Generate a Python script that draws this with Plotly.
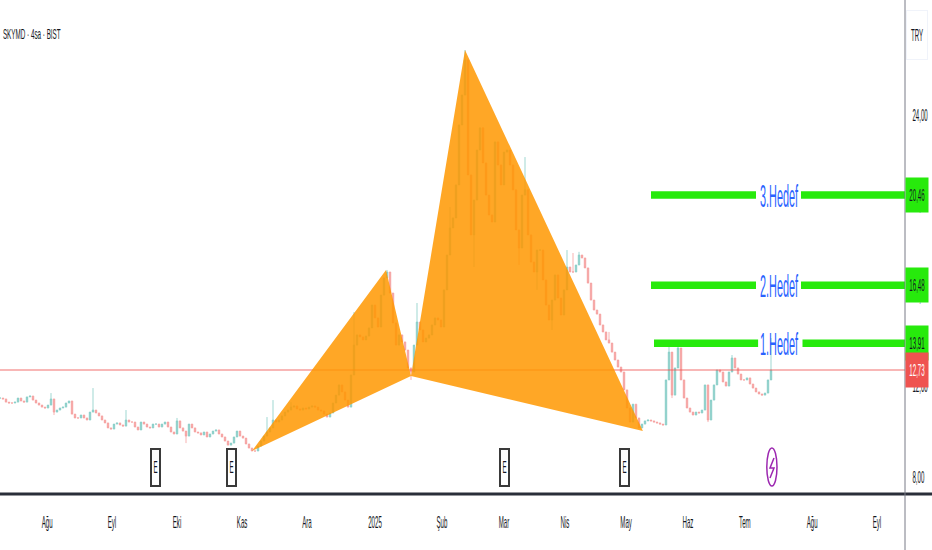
import plotly.graph_objects as go

closes = [11.49,11.45,11.31,11.27,11.27,11.31,11.49,11.36,11.31,11.54,11.58,11.40,11.27,11.18,11.09,11.05,11.18,11.45,10.87,10.96,11.05,11.09,11.27,11.36,10.78,10.61,10.61,10.74,10.61,10.52,10.87,10.96,10.83,10.70,10.52,10.39,10.17,10.12,10.34,10.39,10.30,10.25,10.52,10.43,10.43,10.21,10.08,10.43,10.34,10.21,
10.17,10.34,10.34,10.21,10.34,10.43,10.21,9.99,9.90,10.48,10.17,10.03,9.81,10.34,10.17,9.99,9.95,9.86,9.99,9.77,9.90,10.03,10.08,9.90,9.77,9.59,9.41,9.50,9.77,10.03,9.81,9.72,9.46,9.28,9.15,9.15,
9.37,9.59,9.81,9.99,10.17,10.52,10.43,10.52,10.70,10.87,10.96,11.09,11.14,11.01,10.96,11.05,11.01,11.09,11.14,11.09,10.96,10.92,10.78,10.65,10.83,11.27,11.62,12.07,11.76,11.40,11.09,
12.51,13.83,14.28,14.19,14.06,14.23,14.59,15.60,15.03,14.63,16.04,16.80,17.06,16.13,14.81,13.83,14.28,13.97,13.61,12.82,12.64,13.83,14.85,14.50,13.97,14.14,14.28,14.72,15.03,14.94,14.63,
16.27,17.81,19.01,19.45,20.91,23.56,24.88,26.43,21.35,18.70,20.24,22.45,23.43,21.88,20.46,19.58,19.27,22.81,21.79,20.91,22.36,22.45,21.79,20.69,18.92,18.12,20.46,20.69,18.70,17.50,17.06,18.03,18.03,16.71,15.60,14.94,15.82,16.93,15.91,15.16,16.27,17.28,17.06,17.06,17.37,17.81,17.68,17.24,16.57,15.82,15.38,15.20,14.72,14.41,14.06,13.92,13.52,13.17,12.86,12.64,11.85,11.05,10.43,11.22,10.61,10.17,
10.34,10.48,10.52,10.48,10.43,10.39,10.34,10.30,12.29,13.52,11.62,12.82,13.70,12.29,11.49,11.05,10.87,10.74,10.87,10.83,10.96,12.07,10.52,11.40,12.07,12.73,12.64,12.20,12.02,12.64,13.26,12.82,12.55,12.29,12.29,12.38,12.11,11.93,11.76,11.67,11.62,11.71,12.29,12.73]

spike_highs = {17:11.71,31:11.93,42:10.96,59:10.61,89:10.65,91:11.40,97:11.31,118:15.29,129:17.15,139:15.69,150:19.93,155:26.87,175:22.14,189:18.03,191:17.90,193:17.95,203:14.41,223:13.83,226:13.97,244:13.39,257:14.14}
spike_lows = {18:10.74,62:9.50,137:12.29,158:17.28,173:17.37,179:16.27,184:14.50,224:11.49,236:10.43}

pattern_x = [84,128.67,137,84,None,137,155,214.3,137]
pattern_y = [9.15,17.15,12.46,9.15,None,12.46,26.87,10.03,12.46]

month_pos = [15.7,37.3,59,80.7,102.3,125,147.3,168,188.3,208.7,229.3,248.3,270.7,292.3]
month_labels = ["Ağu","Eyl","Eki","Kas","Ara","2025","Şub","Mar","Nis","May","Haz","Tem","Ağu","Eyl"]
price_ticks = [8,12,16,20,24]
price_labels = ["8,00","12,00","16,00","20,00","24,00"]

last_price = 12.73
targets = [("3.Hedef",20.46,"20,46",217,252,267),("2.Hedef",16.48,"16,48",217,252,267),("1.Hedef",13.91,"13,91",218,252.7,267.5)]
earnings_pos = [51.67,77.33,168,208]
flash_pos = 257.3

XMAX = 905/3
YMIN, YMAX = 7.25, 29.08

bars = list(range(len(closes)))
opens = [closes[0]] + closes[:-1]
highs = [max(o,c,spike_highs.get(i,0)) for i,(o,c) in enumerate(zip(opens,closes))]
lows = [min(o,c,spike_lows.get(i,99)) for i,(o,c) in enumerate(zip(opens,closes))]

fig = go.Figure()
fig.add_trace(go.Candlestick(x=bars,open=opens,high=highs,low=lows,close=closes,opacity=0.55,whiskerwidth=0,
    increasing=dict(line=dict(color="#26a69a",width=0.8),fillcolor="#26a69a"),
    decreasing=dict(line=dict(color="#ef5350",width=0.8),fillcolor="#ef5350"),hoverinfo="skip"))
fig.add_trace(go.Scatter(x=[0,XMAX],y=[last_price,last_price],mode="lines",line=dict(color="rgba(239,83,80,0.42)",width=2),hoverinfo="skip"))
fig.add_trace(go.Scatter(x=pattern_x,y=pattern_y,mode="lines",fill="toself",fillcolor="rgba(255,152,0,0.85)",line=dict(width=0),hoverinfo="skip"))
for name,lvl,lab,x0,x1,x2 in targets:
    fig.add_trace(go.Scatter(x=[x0,x1,None,x2,XMAX],y=[lvl,lvl,None,lvl,lvl],mode="lines",line=dict(color="#27ea0c",width=7.5),hoverinfo="skip"))

ann = []
for name,lvl,lab,x0,x1,x2 in targets:
    ann.append(dict(x=259.5,y=lvl,xref="x",yref="y",text=name,showarrow=False,yshift=-1,font=dict(family="Liberation Sans",size=32,color="#2962ff")))
for name,lvl,lab,x0,x1,x2 in targets:
    ann.append(dict(x=1,xref="paper",xanchor="left",y=lvl,yref="y",text=lab,showarrow=False,width=22,height=34,borderpad=0,bgcolor="#27ea0c",font=dict(family="Liberation Sans",size=17,color="#131722")))
ann.append(dict(x=1,xref="paper",xanchor="left",y=last_price,yref="y",text="12,73",showarrow=False,width=22,height=34,borderpad=0,bgcolor="#ef5350",font=dict(family="Liberation Sans",size=17,color="#ffffff")))
ann.append(dict(x=31.5/905,xref="paper",xanchor="center",y=1-33/494,yref="paper",yanchor="middle",text="SKYMD · 4sa · BIST",showarrow=False,font=dict(family="Liberation Sans",size=15,color="#131722")))
ann.append(dict(x=917/905,xref="paper",xanchor="center",y=1-35/494,yref="paper",yanchor="middle",text="TRY",width=20,height=48,borderpad=0,bordercolor="#f0f3fa",borderwidth=1,bgcolor="#ffffff",showarrow=False,font=dict(family="Liberation Sans",size=17,color="#131722")))
for p in earnings_pos:
    ann.append(dict(x=p,xref="x",y=1-467/494,yref="paper",yanchor="middle",text="E",showarrow=False,width=7,height=35,borderpad=0,bordercolor="#3a3a3a",borderwidth=2,bgcolor="#ffffff",font=dict(family="Liberation Sans",size=17,color="#131722")))

shapes = [
    dict(type="line",xref="paper",yref="paper",x0=0,x1=932/905,y0=0,y1=0,line=dict(color="#2a2e39",width=3)),
    dict(type="line",xref="paper",yref="paper",x0=1,x1=1,y0=1,y1=-56/494,line=dict(color="#787b86",width=1)),
    dict(type="circle",xref="x",yref="paper",x0=flash_pos-1.7,x1=flash_pos+1.7,y0=1-486/494,y1=1-448/494,line=dict(color="#9c27b0",width=1.5),fillcolor="#ffffff"),
    dict(type="path",xref="paper",yref="paper",line=dict(color="#9c27b0",width=1.5),
         path=f"M {774/905} {1-458/494} L {770/905} {1-468/494} L {774/905} {1-468/494} L {770/905} {1-478/494}"),
]

fig.update_layout(width=932,height=550,margin=dict(l=0,r=27,t=0,b=56,autoexpand=False),paper_bgcolor="#ffffff",plot_bgcolor="#ffffff",
    showlegend=False,annotations=ann,shapes=shapes,
    xaxis=dict(range=[0,XMAX],rangeslider=dict(visible=False),showgrid=False,zeroline=False,tickmode="array",tickvals=month_pos,ticktext=month_labels,
               ticks="outside",ticklen=13,tickcolor="rgba(0,0,0,0)",tickfont=dict(family="Liberation Sans",size=17,color="#131722")),
    yaxis=dict(range=[YMIN,YMAX],side="right",showgrid=False,zeroline=False,tickmode="array",tickvals=price_ticks,ticktext=price_labels,
               ticks="outside",ticklen=3,tickcolor="rgba(0,0,0,0)",tickfont=dict(family="Liberation Sans",size=17,color="#131722")))

squeeze = """
document.body.style.margin='0';
document.querySelectorAll('.xtick text,.ytick text,.annotation-text').forEach(function(t){
  var w=t.getComputedTextLength();
  var s=parseFloat(t.style.fontSize)||14;
  var f=s>20?0.34:(s<16?0.42:0.36);
  t.setAttribute('textLength',w*f);
  t.setAttribute('lengthAdjust','spacingAndGlyphs');
});
"""
fig.write_html("out.html",post_script=squeeze,config={"displayModeBar":False})
